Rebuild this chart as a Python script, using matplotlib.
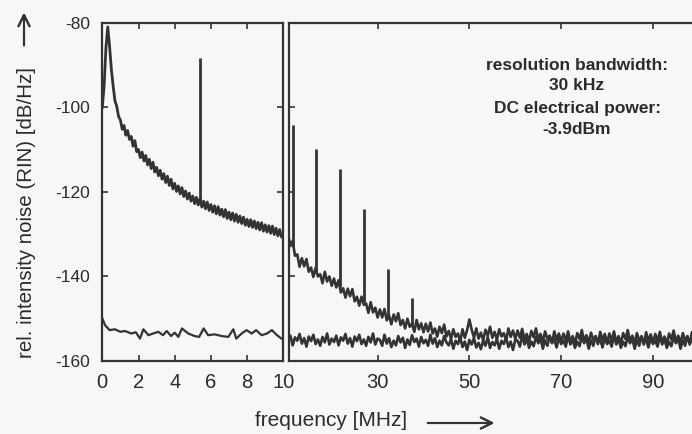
import numpy as np
import matplotlib.pyplot as plt

plt.rcParams['font.family'] = ['Liberation Sans', 'DejaVu Sans']
plt.rcParams['axes.unicode_minus'] = False

# --- values ---

# left panel, 0..10 MHz, 0.1 MHz grid
freq_left = np.round(np.arange(0, 10.01, 0.1), 1)
rin_left = [
    -100.0, -95.0, -86.0, -81.0, -85.5, -91.0, -95.0, -98.5, -99.8, -102.2,
    -103.0, -105.2, -104.3, -106.6, -105.5, -107.6, -106.9, -109.2, -107.9, -110.5,
    -110.0, -111.9, -110.6, -112.7, -111.4, -113.6, -112.3, -114.5, -113.0, -115.3,
    -114.2, -116.2, -114.9, -117.0, -115.7, -117.8, -116.3, -118.5, -117.0, -119.3,
    -118.0, -119.9, -118.6, -120.5, -119.0, -121.1, -119.8, -121.7, -120.3, -122.2,
    -121.0, -122.8, -121.3, -123.1, -121.6, -123.6, -122.2, -124.0, -122.4, -124.4,
    -123.0, -124.8, -123.3, -125.2, -123.5, -125.5, -124.1, -125.9, -124.2, -126.3,
    -124.8, -126.6, -125.0, -126.9, -125.3, -127.2, -125.7, -127.5, -126.0, -127.9,
    -126.5, -128.2, -126.6, -128.4, -126.9, -128.7, -127.2, -129.0, -127.3, -129.3,
    -127.8, -129.5, -128.0, -129.8, -128.1, -130.1, -128.6, -130.4, -128.9, -130.7,
    -130.2,
]

# detector / shot noise floor, left panel
freq_floor_left = [0, 0.15, 0.4, 0.7, 1.0, 1.25, 1.6, 1.85, 2.08, 2.27,
                   2.55, 2.8, 3.1, 3.35, 3.56, 3.8, 4.0, 4.2, 4.4, 4.75,
                   5.1, 5.35, 5.6, 5.85, 6.2, 6.6, 6.96, 7.24, 7.4, 7.7,
                   7.97, 8.25, 8.5, 8.8, 9.1, 9.37, 9.65, 9.9, 10.0]
floor_left = [-149.9, -151.5, -152.7, -152.5, -153.1, -152.9, -153.5, -153.2, -154.7, -152.5,
              -153.9, -153.5, -153.1, -153.9, -152.9, -154.1, -153.3, -154.3, -152.3, -153.5,
              -154.1, -154.3, -152.3, -153.9, -153.7, -154.1, -154.3, -152.5, -154.7, -153.5,
              -152.7, -153.5, -152.7, -153.9, -153.5, -152.7, -153.9, -154.7, -154.5]

# right panel, 10.5..100 MHz, 0.5 MHz grid
freq_right = np.round(np.arange(10.5, 100.01, 0.5), 1)
rin_right = [
    -130.1, -132.8, -131.6, -135.1, -134.8, -137.7, -135.7, -137.6, -135.9, -138.9,
    -137.9, -140.1, -138.0, -140.0, -139.5, -141.6, -138.9, -141.2, -140.0, -142.2,
    -140.5, -142.6, -140.9, -143.8, -142.8, -145.0, -142.9, -144.7, -143.0, -145.9,
    -144.8, -146.9, -144.8, -146.7, -146.4, -148.6, -146.1, -148.5, -147.4, -149.7,
    -147.8, -149.7, -147.7, -150.4, -149.2, -151.3, -149.0, -150.6, -148.7, -151.5,
    -150.3, -152.3, -150.0, -151.9, -151.2, -153.1, -150.3, -152.5, -151.1, -153.2,
    -151.2, -153.0, -150.9, -153.5, -152.3, -154.2, -151.9, -153.4, -151.4, -154.2,
    -152.9, -154.8, -152.5, -154.3, -153.5, -155.4, -152.5, -154.5, -152.7, -150.2,
    -152.6, -154.5, -152.3, -154.7, -153.3, -155.1, -152.6, -154.0, -151.9, -154.5,
    -153.1, -154.9, -152.5, -154.2, -153.4, -155.2, -152.3, -154.3, -152.8, -154.8,
    -152.8, -154.5, -152.4, -154.9, -153.6, -155.4, -152.9, -154.4, -152.3, -154.9,
    -153.6, -155.4, -153.0, -154.8, -154.0, -155.8, -153.0, -155.0, -153.5, -155.5,
    -153.5, -155.2, -153.0, -155.5, -154.1, -155.9, -153.4, -154.8, -152.7, -155.3,
    -153.9, -155.7, -153.3, -155.0, -154.2, -156.0, -153.1, -155.1, -153.6, -155.6,
    -153.5, -155.2, -153.0, -155.5, -154.1, -155.9, -153.4, -154.8, -152.7, -155.3,
    -154.0, -155.8, -153.4, -155.1, -154.3, -156.1, -153.2, -155.2, -153.7, -155.7,
    -153.6, -155.3, -153.1, -155.6, -154.2, -156.0, -153.5, -154.9, -152.8, -155.4,
    -154.0, -155.8, -153.4, -155.1, -154.3, -156.1, -153.2, -155.2, -153.7, -155.7,
]
floor_right = [
    -155.5, -154.0, -156.3, -154.4, -155.2, -153.6, -155.9, -154.6, -156.6, -154.2,
    -155.3, -153.8, -156.0, -154.9, -156.4, -154.3, -155.6, -153.5, -156.1, -154.7,
    -155.5, -154.0, -156.3, -154.4, -155.2, -153.6, -155.9, -154.6, -156.6, -154.2,
    -155.3, -153.8, -156.0, -154.9, -156.4, -154.3, -155.6, -153.5, -156.1, -154.7,
    -155.0, -156.4, -153.8, -155.9, -154.6, -156.7, -155.2, -156.3, -154.1, -155.6,
    -154.5, -156.9, -154.9, -156.2, -153.9, -155.5, -154.7, -156.6, -154.3, -155.8,
    -155.0, -156.4, -153.8, -155.9, -154.6, -156.7, -155.2, -156.3, -154.1, -155.6,
    -156.3, -154.8, -157.1, -155.2, -156.0, -154.4, -156.7, -155.4, -157.4, -155.0,
    -156.1, -154.6, -156.8, -155.7, -157.2, -155.1, -156.4, -154.3, -156.9, -155.5,
    -156.3, -154.8, -157.1, -155.2, -156.0, -154.4, -156.7, -155.4, -157.4, -155.0,
    -155.2, -156.6, -154.0, -156.1, -154.8, -156.9, -155.4, -156.5, -154.3, -155.8,
    -154.7, -157.1, -155.1, -156.4, -154.1, -155.7, -154.9, -156.8, -154.5, -156.0,
    -155.2, -156.6, -154.0, -156.1, -154.8, -156.9, -155.4, -156.5, -154.3, -155.8,
    -154.7, -157.1, -155.1, -156.4, -154.1, -155.7, -154.9, -156.8, -154.5, -156.0,
    -155.2, -156.6, -154.0, -156.1, -154.8, -156.9, -155.4, -156.5, -154.3, -155.8,
    -154.7, -157.1, -155.1, -156.4, -154.1, -155.7, -154.9, -156.8, -154.5, -156.0,
    -155.2, -156.6, -154.0, -156.1, -154.8, -156.9, -155.4, -156.5, -154.3, -155.8,
    -154.7, -157.1, -155.1, -156.4, -154.1, -155.7, -154.9, -156.8, -154.5, -156.0,
]

# narrow spurs (frequency, trace level under the spur, top of the spur)
spur_freq_left = [5.4]
spur_base_left = [-122.5]
spur_top_left = [-88.3]
spur_freq_right = [11.5, 16.6, 21.9, 27.0, 32.2, 37.5]
spur_base_right = [-133.0, -138.8, -142.5, -146.1, -149.3, -151.4]
spur_top_right = [-104.3, -109.8, -114.6, -124.0, -138.3, -145.2]

ticks_left = [0, 2, 4, 6, 8, 10]
ticks_right = [30, 50, 70, 90]
ticks_y = [-160, -140, -120, -100, -80]

ink = '#333333'
txt_col = '#2b2b2b'
paper = '#f7f7f5'

W, H = 692, 434
fig = plt.figure(figsize=(W / 100, H / 100), dpi=100, facecolor=paper)

bot = (H - 361) / H
hgt = (361 - 22.7) / H
ax1 = fig.add_axes([102.3 / W, bot, (283.3 - 102.3) / W, hgt])
ax2 = fig.add_axes([289 / W, bot, (89.3 * 4.59) / W, hgt])

for ax in (ax1, ax2):
    ax.set_facecolor(paper)
    ax.set_ylim(-160, -80)
    ax.set_yticks(ticks_y)
    for s in ax.spines.values():
        s.set_color(ink)
        s.set_linewidth(1.6)
    ax.tick_params(direction='in', length=4, width=1.2, color=ink,
                   top=True, right=True)
    ax.tick_params(axis='y', labelsize=12.5, labelcolor=txt_col, pad=9)
    ax.tick_params(axis='x', labelsize=14.5, labelcolor=txt_col, pad=9)

ax1.set_xlim(0, 10)
ax1.set_xticks(ticks_left)
ax1.set_xticklabels([str(t) for t in ticks_left])

ax2.set_xlim(10.7, 100)
ax2.set_xticks(ticks_right)
ax2.set_xticklabels([str(t) for t in ticks_right])
ax2.tick_params(labelleft=False)

# traces
ax1.plot(freq_left, rin_left, color=ink, lw=2.0)
ax1.plot(freq_floor_left, floor_left, color=ink, lw=1.6)
ax1.vlines(spur_freq_left, spur_base_left, spur_top_left, color=ink, lw=2.0)

ax2.plot(freq_right, rin_right, color=ink, lw=1.9)
ax2.plot(freq_right, floor_right, color=ink, lw=1.9)
ax2.vlines(spur_freq_right, spur_base_right, spur_top_right, color=ink, lw=2.0)

# annotation
notes = ['resolution bandwidth:', '30 kHz', 'DC electrical power:', '-3.9dBm']
note_y = [65, 86, 108, 130]
for txt, yy in zip(notes, note_y):
    fig.text(577 / W, 1 - yy / H, txt, ha='center', va='center',
             fontsize=12.5, fontweight='bold', color=txt_col)

# axis labels with arrows
fig.text(27 / W, 1 - 213 / H, 'rel. intensity noise (RIN) [dB/Hz]',
         rotation=90, ha='center', va='center', fontsize=14.8, color=txt_col)
fig.text(331 / W, 1 - 421 / H, 'frequency [MHz]', ha='center', va='center',
         fontsize=15, color=txt_col)

arrow = dict(arrowstyle='->', color=ink, lw=1.5, mutation_scale=20)
fig.add_artist(plt.annotate('', xy=(24 / W, 1 - 10 / H), xytext=(24 / W, 1 - 48 / H),
                            xycoords='figure fraction', textcoords='figure fraction',
                            arrowprops=arrow))
fig.add_artist(plt.annotate('', xy=(497 / W, 1 - 423 / H), xytext=(425 / W, 1 - 423 / H),
                            xycoords='figure fraction', textcoords='figure fraction',
                            arrowprops=arrow))

plt.savefig('out.png', dpi=100, facecolor=paper)
